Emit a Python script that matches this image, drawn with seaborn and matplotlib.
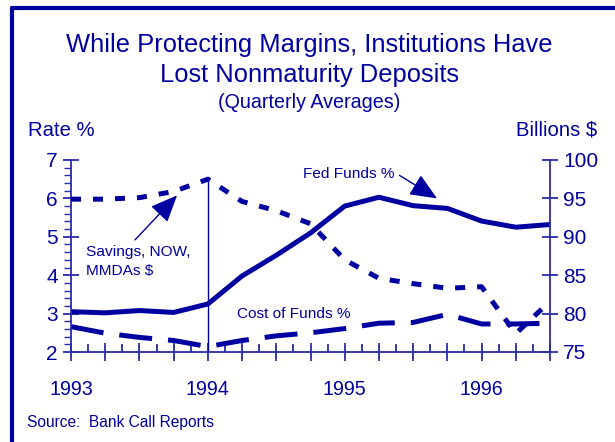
import numpy as np
import pandas as pd
import matplotlib
matplotlib.use("Agg")
import matplotlib.pyplot as plt
import seaborn as sns
from matplotlib.ticker import MultipleLocator

# quarterly averages, 1993Q1 .. 1996Q3
quarters = ['93Q1', '93Q2', '93Q3', '93Q4', '94Q1', '94Q2', '94Q3', '94Q4',
            '95Q1', '95Q2', '95Q3', '95Q4', '96Q1', '96Q2', '96Q3']
fed_funds = [3.05, 3.02, 3.08, 3.03, 3.25, 3.98, 4.52, 5.1, 5.8, 6.03, 5.81, 5.74, 5.41, 5.25, 5.32]
cost_of_funds = [2.66, 2.49, 2.38, 2.3, 2.14, 2.3, 2.42, 2.5, 2.61, 2.75, 2.77, 2.98, 2.73, 2.73, 2.75]
savings = [94.9, 94.9, 95.1, 95.9, 97.5, 94.6, 93.4, 91.7, 87.0, 84.6, 83.9, 83.3, 83.5, 77.4, 81.6]
year_labels = ['1993', '', '', '', '1994', '', '', '', '1995', '', '', '', '1996', '', '']

navy = '#0000A0'
axis_col = '#2B2BA8'

sns.set_theme(style='white')
plt.rcParams['font.family'] = ['Liberation Sans', 'DejaVu Sans']

df = pd.DataFrame({'q': np.arange(len(quarters)), 'fed': fed_funds,
                   'cof': cost_of_funds, 'sav': savings})

fig = plt.figure(figsize=(6.15, 4.42), dpi=100)
ax = fig.add_axes([71 / 615, 1 - 352 / 442, (550 - 71) / 615, 192 / 442])
ax2 = ax.twinx()

sns.lineplot(data=df, x='q', y='fed', ax=ax, color=navy, lw=3.6)
sns.lineplot(data=df, x='q', y='cof', ax=ax, color=navy, lw=3.6)
ax.lines[-1].set_dashes([6.6, 3.2])
sns.lineplot(data=df, x='q', y='sav', ax=ax2, color=navy, lw=3.6)
ax2.lines[-1].set_dashes([2.0, 2.4])

ax.set_xlim(0, 14)
ax.set_ylim(2, 7)
ax2.set_ylim(75, 100)

# vertical marker at 1994
ax.plot([4, 4], [2, 6.55], color=navy, lw=1)

for a in (ax, ax2):
    for s in a.spines.values():
        s.set_visible(False)
    a.set_xlabel('')
    a.set_ylabel('')
    a.grid(False)
    a.patch.set_alpha(0)

ax.spines['left'].set_visible(True)
ax.spines['bottom'].set_visible(True)
ax2.spines['right'].set_visible(True)
for s in (ax.spines['left'], ax.spines['bottom'], ax2.spines['right']):
    s.set_color(axis_col)
    s.set_linewidth(1.3)

ax.set_xticks(np.arange(len(quarters)))
ax.set_xticklabels(year_labels)
ax.set_xticks(np.arange(0.5, 14, 1), minor=True)
ax.tick_params(axis='x', which='major', direction='inout', length=13, width=1.3,
               color=axis_col, labelsize=14.2, labelcolor=navy, pad=14, bottom=True)
ax.tick_params(axis='x', which='minor', direction='in', length=6, width=1.3,
               color=axis_col, bottom=True)

ax.set_yticks(range(2, 8))
ax.yaxis.set_minor_locator(MultipleLocator(0.2))
ax.tick_params(axis='y', which='major', direction='inout', length=11, width=1.3,
               color=axis_col, labelsize=15, labelcolor=navy, pad=4, left=True)
ax.tick_params(axis='y', which='minor', direction='out', length=5, width=1,
               color=axis_col, left=True)

ax2.set_yticks(range(75, 101, 5))
ax2.tick_params(axis='y', which='major', direction='inout', length=11, width=1.3,
                color=axis_col, labelsize=15, labelcolor=navy, pad=4, right=True)

arrow = dict(arrowstyle='-|>,head_length=1.4,head_width=0.6', color=navy, lw=1,
             shrinkA=0, shrinkB=0)

# annotations
ax.text(6.78, 6.64, 'Fed Funds %', color=navy, fontsize=11.1, ha='left', va='center')
ax.annotate('', xy=(10.7, 6.0), xytext=(9.6, 6.6), arrowprops=arrow)
ax2.text(0.45, 86.8, 'Savings, NOW,\nMMDAs $', color=navy, fontsize=11.1,
         ha='left', va='center', linespacing=1.5)
ax2.annotate('', xy=(3.1, 95.4), xytext=(1.87, 89.6), arrowprops=arrow)
ax.text(4.85, 3.0, 'Cost of Funds %', color=navy, fontsize=11.1, va='center')

# titles and side labels
fig.text(0.503, 1 - 45 / 442, 'While Protecting Margins, Institutions Have',
         ha='center', va='center', color=navy, fontsize=18.4)
fig.text(0.503, 1 - 75 / 442, 'Lost Nonmaturity Deposits',
         ha='center', va='center', color=navy, fontsize=18.4)
fig.text(0.503, 1 - 103 / 442, '(Quarterly Averages)',
         ha='center', va='center', color=navy, fontsize=14.2)
fig.text(28 / 615, 1 - 130 / 442, 'Rate %', ha='left', va='center', color=navy, fontsize=14.6)
fig.text(597 / 615, 1 - 130 / 442, 'Billions $', ha='right', va='center', color=navy, fontsize=14.6)
fig.text(27 / 615, 1 - 423 / 442, 'Source:  Bank Call Reports', ha='left', va='center',
         color=navy, fontsize=11.2)

# frame on top and left
fig.add_artist(plt.Line2D([11.5 / 615, 1], [1 - 8 / 442, 1 - 8 / 442], color=navy, lw=3))
fig.add_artist(plt.Line2D([11.5 / 615, 11.5 / 615], [0, 1 - 8 / 442], color=navy, lw=3))

fig.savefig('out.png', dpi=100)
